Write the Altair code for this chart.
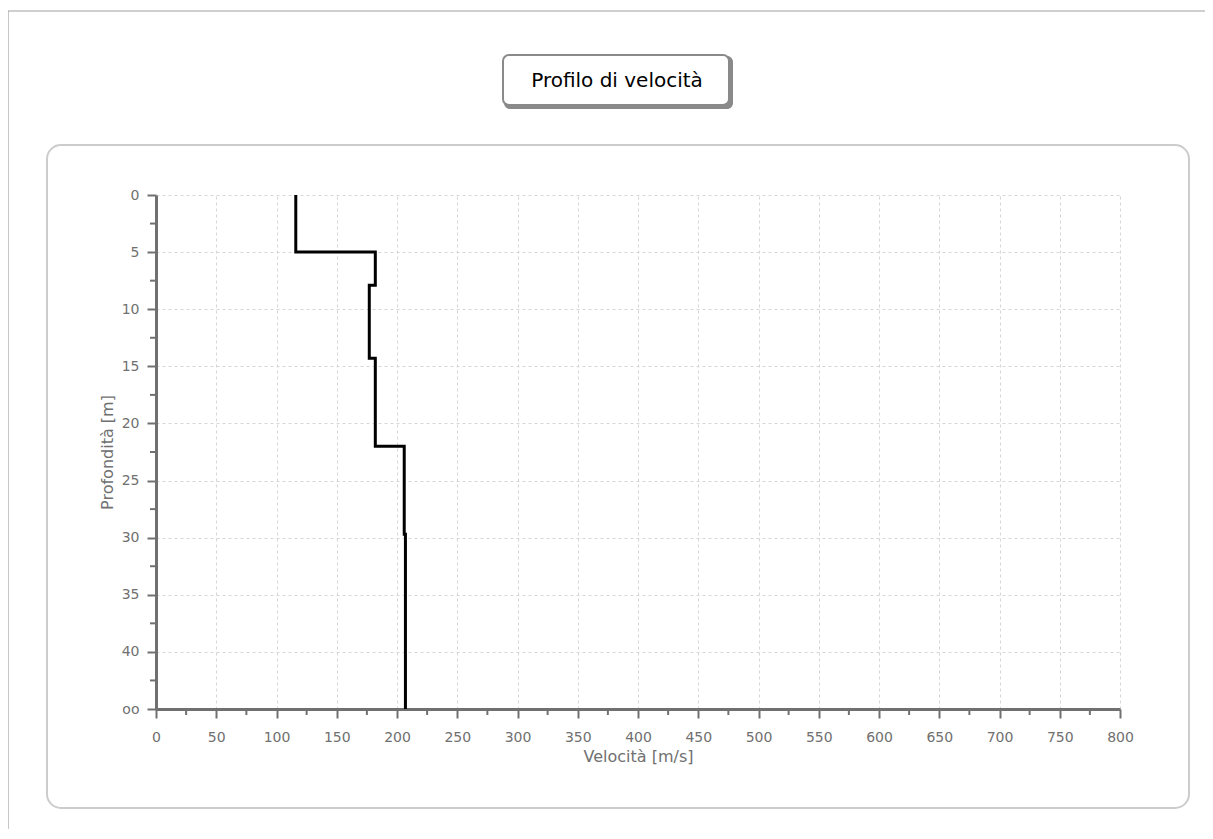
import altair as alt
import pandas as pd

# ---- data ----
velocities = [116, 182, 177, 182, 206, 207]
depth_top = [0, 5, 7.9, 14.3, 22, 29.7]
depth_bottom = [5, 7.9, 14.3, 22, 29.7, 45]
x_ticks = list(range(0, 801, 50))
y_ticks = list(range(0, 46, 5))
x_minor = list(range(25, 800, 50))
y_minor = [2.5, 7.5, 12.5, 17.5, 22.5, 27.5, 32.5, 37.5, 42.5]
title_text = "Profilo di velocità"
x_title = "Velocità [m/s]"
y_title = "Profondità [m]"

rows = []
for i, (v, t, b) in enumerate(zip(velocities, depth_top, depth_bottom)):
    rows.append({"v": v, "d": t, "o": 2 * i})
    rows.append({"v": v, "d": b, "o": 2 * i + 1})
df = pd.DataFrame(rows)

W, H = 964, 514
GREY = "#707070"
FONT = "DejaVu Sans"

xs = alt.Scale(domain=[0, 800], nice=False, zero=False)
ys = alt.Scale(domain=[0, 45], reverse=True, nice=False, zero=False)

common = dict(
    grid=True, gridDash=[3, 3], gridColor="#d6d6d6", gridWidth=1,
    domainColor=GREY, domainWidth=3, tickColor=GREY, tickWidth=2, tickSize=9,
    labelColor=GREY, labelFont=FONT, labelFontSize=14,
    titleColor=GREY, titleFont=FONT, titleFontSize=16, titleFontWeight="normal",
)
xaxis = alt.Axis(values=x_ticks, title=x_title, labelPadding=12, titlePadding=4,
                 labelFlush=False, **common)
yaxis = alt.Axis(values=y_ticks, title=y_title, labelPadding=8, titlePadding=6,
                 labelExpr="datum.value == 45 ? 'oo' : datum.label", **common)

one = alt.Data(values=[{"a": 1}])

outer = alt.Chart(one).mark_rect(fillOpacity=0, stroke="#a0a0a0", strokeWidth=1.2).encode(
    x=alt.value(-148), x2=alt.value(1070), y=alt.value(-184), y2=alt.value(660))
inner = alt.Chart(one).mark_rect(fillOpacity=0, stroke="#cccccc", strokeWidth=2,
                                 cornerRadius=14).encode(
    x=alt.value(-109), x2=alt.value(1033), y=alt.value(-50), y2=alt.value(613))
shadow = alt.Chart(one).mark_rect(fill="#8a8a8a", cornerRadius=6).encode(
    x=alt.value(348), x2=alt.value(577), y=alt.value(-139), y2=alt.value(-86))
tbox = alt.Chart(one).mark_rect(fill="white", stroke="#8a8a8a", strokeWidth=2,
                                cornerRadius=6).encode(
    x=alt.value(347), x2=alt.value(573), y=alt.value(-140), y2=alt.value(-90))
ttext = alt.Chart(one).mark_text(text=title_text, font=FONT, fontSize=20,
                                 color="black", align="center", baseline="middle").encode(
    x=alt.value(461), y=alt.value(-114))

xminor = alt.Chart(pd.DataFrame({"v": x_minor})).mark_rule(color=GREY, strokeWidth=2).encode(
    x=alt.X("v:Q", scale=xs, axis=xaxis), y=alt.value(H), y2=alt.value(H + 6))
yminor = alt.Chart(pd.DataFrame({"d": y_minor})).mark_rule(color=GREY, strokeWidth=2).encode(
    y=alt.Y("d:Q", scale=ys, axis=yaxis), x=alt.value(-6), x2=alt.value(0))

line = alt.Chart(df).mark_line(color="black", strokeWidth=3, strokeJoin="miter").encode(
    x=alt.X("v:Q", scale=xs, axis=xaxis),
    y=alt.Y("d:Q", scale=ys, axis=yaxis),
    order=alt.Order("o:Q"),
)

chart = alt.layer(outer, inner, shadow, tbox, ttext, xminor, yminor, line).properties(
    width=W, height=H,
    autosize=alt.AutoSizeParams(type="none"),
    padding={"left": 148, "top": 187, "right": 85, "bottom": 120},
    background="white",
).configure_view(stroke=None)

chart.save("out.html", embed_options={"renderer": "svg", "actions": False})
